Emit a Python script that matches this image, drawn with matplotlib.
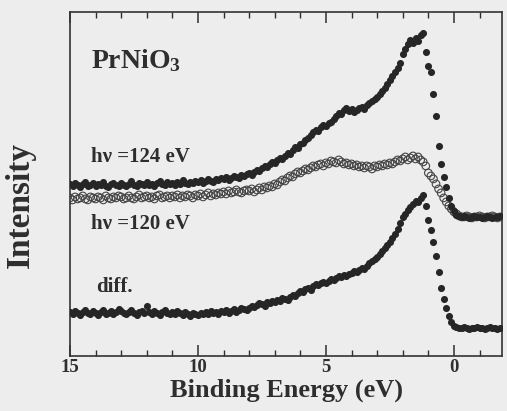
"""
PrNiO3 resonant photoemission: hv=124 eV, hv=120 eV and difference.
"""
import numpy as np
import matplotlib
matplotlib.use("Agg")
import matplotlib.pyplot as plt
from matplotlib.ticker import MultipleLocator, NullLocator

BG = "#ededee"
DOT = "#262626"
OPEN = "#454545"
TXT = "#2e2e2e"

plt.rcParams.update({
    "font.family": ["Liberation Serif", "DejaVu Serif"],
    "font.weight": "bold",
    "mathtext.fontset": "custom",
    "mathtext.rm": "Liberation Serif:bold",
    "mathtext.default": "rm",
})

# binding energy grid (eV), 0.1 eV step from 15.0 to -1.8
energy = np.round(np.arange(15.0, -1.85, -0.1), 1)

# hv = 124 eV (filled dots), arbitrary intensity units
hv124 = [
    172, 170, 173, 171, 169, 172, 174, 170, 171, 173,   # 15.0 .. 14.1
    170, 172, 171, 174, 170, 169, 172, 173, 171, 170,   # 14.0 .. 13.1
    173, 171, 170, 172, 175, 171, 170, 173, 172, 171,   # 13.0 .. 12.1
    174, 171, 172, 170, 173, 175, 172, 171, 174, 172,   # 12.0 .. 11.1
    173, 171, 174, 172, 176, 173, 172, 174, 173, 175,   # 11.0 .. 10.1
    174, 176, 173, 175, 177, 175, 174, 177, 176, 178,   # 10.0 .. 9.1
    177, 179, 176, 178, 180, 179, 178, 181, 180, 182,   # 9.0 .. 8.1
    183, 181, 184, 186, 185, 188, 190, 189, 192, 194,   # 8.0 .. 7.1
    193, 196, 198, 197, 200, 203, 202, 206, 209, 208,   # 7.0 .. 6.1
    212, 213, 216, 218, 221, 224, 226, 225, 229, 231,   # 6.0 .. 5.1
    230, 233, 234, 237, 240, 243, 242, 246, 248, 245,   # 5.0 .. 4.1
    247, 244, 246, 248, 249, 247, 251, 253, 255, 257,   # 4.0 .. 3.1
    259, 262, 265, 268, 272, 276, 280, 284, 288, 293,   # 3.0 .. 2.1
    302, 307, 312, 316, 313, 318, 315, 321, 323, 304,   # 2.0 .. 1.1
    290, 284, 262, 240, 210, 192, 179, 169, 158, 150,   # 1.0 .. 0.1
    145, 141, 140, 139, 140, 139, 138, 139, 140, 139,   # 0.0 .. -0.9
    139, 138, 139, 140, 139, 138, 139, 139, 140,        # -1.0 .. -1.8
]

# hv = 120 eV (open circles)
hv120 = [
    158, 156, 159, 157, 158, 160, 157, 156, 159, 158,
    157, 159, 158, 156, 160, 158, 157, 159, 158, 160,
    159, 157, 158, 160, 158, 157, 159, 161, 158, 159,
    160, 158, 159, 157, 160, 161, 158, 159, 160, 158,
    160, 159, 161, 158, 160, 159, 161, 160, 158, 161,
    160, 162, 159, 161, 163, 160, 162, 161, 163, 162,
    164, 162, 165, 163, 164, 166, 164, 163, 165, 166,
    165, 167, 164, 166, 168, 166, 169, 168, 170, 169,
    172, 171, 174, 176, 175, 178, 180, 179, 182, 184,
    183, 185, 187, 186, 188, 190, 189, 191, 192, 190,
    193, 192, 195, 194, 193, 196, 194, 192, 193, 191,
    192, 190, 191, 189, 190, 188, 190, 189, 187, 190,
    189, 191, 190, 192, 191, 193, 192, 194, 196, 195,
    197, 199, 196, 198, 200, 197, 199, 196, 194, 190,
    183, 180, 177, 172, 167, 163, 158, 154, 150, 147,
    144, 142, 140, 139, 139, 140, 139, 138, 139, 139,
    140, 139, 138, 139, 139, 140, 139, 138, 139,
]

# difference (hv124 - hv120), filled dots
diff = [
    44, 42, 45, 43, 41, 44, 46, 43, 42, 45,
    43, 41, 44, 46, 42, 43, 45, 42, 44, 47,
    45, 43, 42, 44, 46, 43, 41, 44, 45, 43,
    50, 44, 42, 45, 43, 41, 44, 46, 43, 42,
    44, 42, 45, 43, 41, 44, 42, 40, 43, 42,
    41, 43, 42, 44, 42, 45, 43, 44, 42, 45,
    44, 46, 43, 45, 47, 44, 46, 48, 47, 46,
    48, 50, 49, 51, 53, 52, 50, 54, 53, 55,
    54, 56, 55, 58, 57, 56, 59, 61, 60, 63,
    65, 64, 67, 68, 66, 70, 72, 71, 73, 74,
    73, 75, 77, 76, 78, 80, 79, 81, 80, 82,
    83, 85, 84, 86, 88, 87, 90, 93, 95, 97,
    99, 102, 105, 108, 111, 114, 118, 122, 127, 133,
    139, 142, 146, 149, 152, 155, 154, 158, 161, 150,
    136, 126, 114, 100, 84, 68, 57, 48, 40, 34,
    30, 29, 28, 28, 29, 28, 27, 28, 28, 29,
    28, 28, 27, 28, 29, 28, 28, 27, 28,
]

fig = plt.figure(figsize=(5.07, 4.11), dpi=100, facecolor=BG)
ax = fig.add_axes([0.138, 0.134, 0.852, 0.837], facecolor=BG)

ax.scatter(energy, hv120, s=30, facecolors="none", edgecolors=OPEN, linewidths=0.8, zorder=2)
ax.scatter(energy, hv124, s=26, color=DOT, linewidths=0, zorder=3)
ax.scatter(energy, diff, s=26, color=DOT, linewidths=0, zorder=3)

ax.set_xlim(15, -1.875)
ax.set_ylim(0, 344)

ax.xaxis.set_major_locator(MultipleLocator(5))
ax.xaxis.set_minor_locator(MultipleLocator(1))
ax.yaxis.set_major_locator(NullLocator())
ax.tick_params(axis="x", which="both", direction="in", top=True, colors=TXT,
               labelsize=13.5, pad=2)
ax.tick_params(axis="x", which="major", length=8, width=1.1)
ax.tick_params(axis="x", which="minor", length=4, width=1.0)
for lab in ax.get_xticklabels():
    lab.set_fontweight("bold")
for sp in ax.spines.values():
    sp.set_linewidth(1.2)
    sp.set_color("#333333")

ax.set_xlabel("Binding Energy (eV)", fontsize=19, fontweight="bold", color=TXT, va="top")
ax.xaxis.set_label_coords(0.502, -0.066)
ax.set_ylabel("Intensity", fontsize=24, fontweight="bold", color=TXT)
ax.yaxis.set_label_coords(-0.078, 0.44)

ax.text(14.18, 288, "PrNiO$_3$", fontsize=20, fontweight="bold", color=TXT, va="baseline")
ax.text(14.18, 194, "hν =124 eV", fontsize=15, fontweight="bold", color=TXT, va="baseline")
ax.text(14.18, 127, "hν =120 eV", fontsize=15, fontweight="bold", color=TXT, va="baseline")
ax.text(13.98, 64, "diff.", fontsize=15, fontweight="bold", color=TXT, va="baseline")

fig.savefig("out.png", dpi=100, facecolor=BG)
